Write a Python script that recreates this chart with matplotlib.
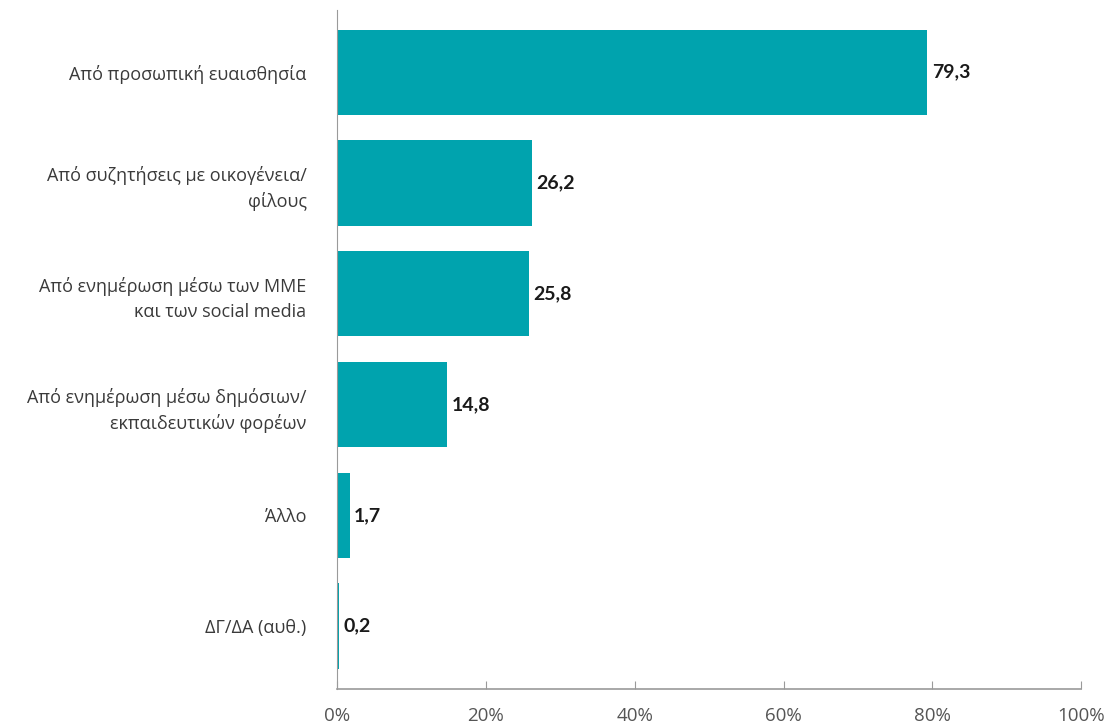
import matplotlib.pyplot as plt

plt.rcParams['font.family'] = ['Open Sans', 'Noto Sans', 'DejaVu Sans']

categories = [
    'Από προσωπική ευαισθησία',
    'Από συζητήσεις με οικογένεια/\nφίλους',
    'Από ενημέρωση μέσω των ΜΜΕ\nκαι των social media',
    'Από ενημέρωση μέσω δημόσιων/\nεκπαιδευτικών φορέων',
    'Άλλο',
    'ΔΓ/ΔΑ (αυθ.)',
]
values = [79.3, 26.2, 25.8, 14.8, 1.7, 0.2]
xticks = [0, 20, 40, 60, 80, 100]

bar_color = '#00A3AE'
axis_color = '#9a9a9a'

fig = plt.figure(figsize=(11.09, 7.27), dpi=100)
ax = fig.add_axes([0.304, 0.052, 0.671, 0.934])

pos = list(range(len(categories)))
ax.barh(pos, values, height=0.77, color=bar_color)

for y, v in zip(pos, values):
    ax.text(v + 0.6, y, f'{v:.1f}'.replace('.', ','), va='center', ha='left',
            fontsize=14, fontweight='bold', color='#1a1a1a',
            family=['Lato', 'DejaVu Sans'])

ax.set_xlim(0, 100)
ax.set_ylim(len(categories) - 0.43, -0.56)
ax.set_yticks(pos)
ax.set_yticklabels(categories, fontsize=13, color='#3a3a3a', ha='right',
                   multialignment='right', linespacing=1.5)
ax.tick_params(axis='y', length=0, pad=22)

ax.set_xticks(xticks)
ax.set_xticklabels([f'{t}%' for t in xticks], fontsize=13.5, color='#555555')
ax.tick_params(axis='x', direction='in', length=6, color=axis_color, pad=13)

for s in ['top', 'right']:
    ax.spines[s].set_visible(False)
ax.spines['left'].set_color(axis_color)
ax.spines['bottom'].set_color(axis_color)
ax.spines['bottom'].set_linewidth(1.2)

fig.savefig('out.png', dpi=100)
